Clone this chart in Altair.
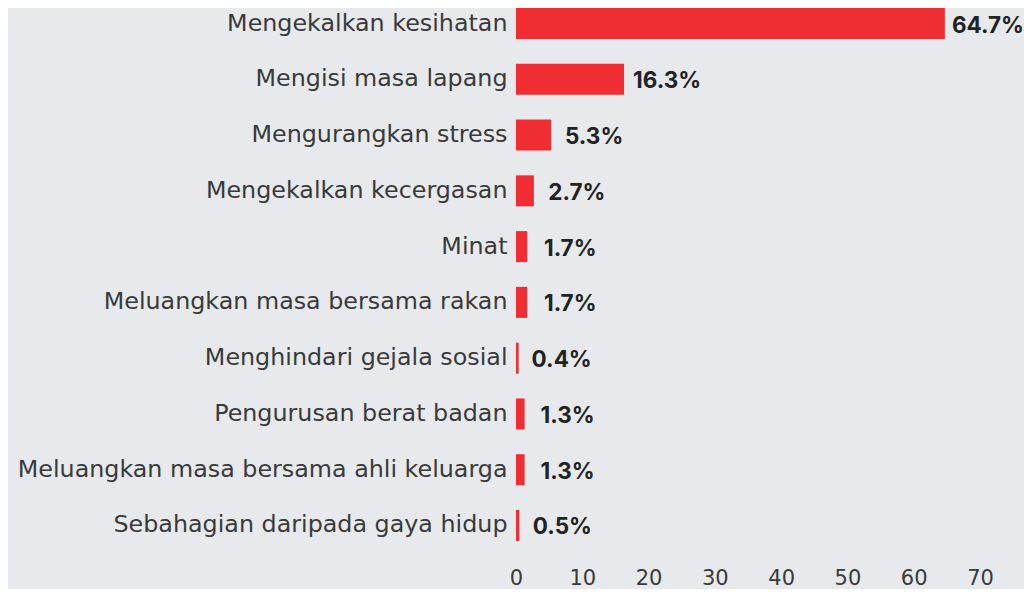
import altair as alt
import pandas as pd

categories = [
    "Mengekalkan kesihatan",
    "Mengisi masa lapang",
    "Mengurangkan stress",
    "Mengekalkan kecergasan",
    "Minat",
    "Meluangkan masa bersama rakan",
    "Menghindari gejala sosial",
    "Pengurusan berat badan",
    "Meluangkan masa bersama ahli keluarga",
    "Sebahagian daripada gaya hidup",
]
values = [64.7, 16.3, 5.3, 2.7, 1.7, 1.7, 0.4, 1.3, 1.3, 0.5]
value_labels = ["64.7%", "16.3%", "5.3%", "2.7%", "1.7%", "1.7%", "0.4%", "1.3%", "1.3%", "0.5%"]
x_ticks = [0, 10, 20, 30, 40, 50, 60, 70]

df = pd.DataFrame({"cat": categories, "val": values, "lab": value_labels})

LABEL_FONT = "DejaVu Sans"
VALUE_FONT = "Inter"

y_enc = alt.Y(
    "cat:N",
    sort=categories,
    title=None,
    scale=alt.Scale(paddingInner=0.444, paddingOuter=0),
    axis=alt.Axis(
        domain=False, ticks=False, labelFontSize=23.8, labelFont=LABEL_FONT,
        labelFontWeight="normal", labelColor="#3a3a3a", labelPadding=9, labelLimit=700,
    ),
)
x_enc = alt.X(
    "val:Q",
    title=None,
    scale=alt.Scale(domain=[0, 70], nice=False),
    axis=alt.Axis(
        values=x_ticks, grid=False, domain=False, ticks=False, labelFontSize=21,
        labelFont=LABEL_FONT, labelFontWeight="normal", labelColor="#3a3a3a",
        labelPadding=26, labelFlush=False,
    ),
)

bars = alt.Chart(df).mark_bar(color="#ef2d32").encode(x=x_enc, y=y_enc)
text = alt.Chart(df).mark_text(
    align="center", baseline="middle", dx=43, dy=2, font=VALUE_FONT, fontWeight="bold",
    fontSize=22.5, color="#222222",
).encode(x="val:Q", y=alt.Y("cat:N", sort=categories), text="lab:N")

chart = (bars + text).properties(
    width=464,
    height=533,
    padding={"left": 508, "top": 0, "right": 44, "bottom": 48},
    autosize=alt.AutoSizeParams(type="none"),
    background="#e7e9ec",
).configure_view(stroke=None)

chart.save("out.html", embed_options={"renderer": "svg", "actions": False})
